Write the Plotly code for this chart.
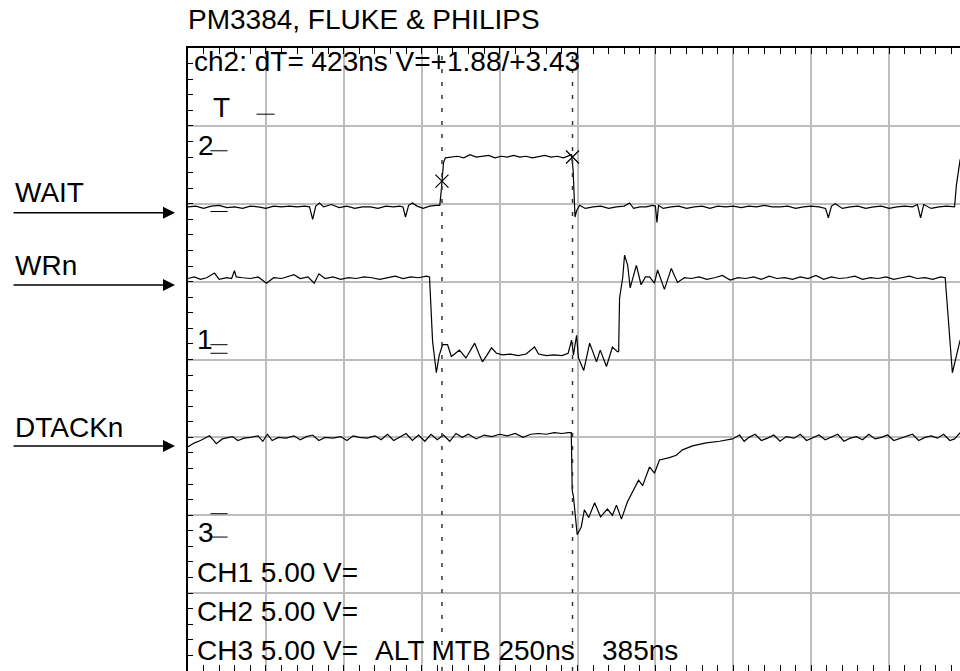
import plotly.graph_objects as go

# ---- data (time in ns, level in screen divisions; 250 ns/div, 5 V/div) ----
wait_t = [0, 25, 50, 75, 100, 125, 150, 175, 200, 225, 250, 275, 300, 325, 350, 375, 390, 400, 410, 422,
          435, 460, 485, 510, 535, 560, 585, 610, 635, 660, 680, 690, 698, 708, 720, 735, 755, 775, 795, 808,
          813, 817, 820, 826, 845, 865, 885, 905, 925, 945, 965, 985, 1005, 1025, 1045, 1065, 1085, 1105,
          1125, 1145, 1165, 1185, 1205, 1220, 1231, 1236, 1239, 1242, 1247, 1257, 1275, 1300, 1325, 1350,
          1375, 1400, 1417, 1430, 1450, 1470, 1490, 1500, 1505, 1510, 1525, 1550, 1575, 1600, 1625, 1650,
          1675, 1700, 1725, 1750, 1775, 1800, 1825, 1850, 1875, 1900, 1925, 1950, 1975, 2000, 2025, 2046,
          2055, 2065, 2077, 2100, 2125, 2150, 2175, 2200, 2225, 2250, 2275, 2300, 2325, 2341, 2351, 2361,
          2385, 2410, 2435, 2460, 2466, 2478]
wait_v = [1.96, 1.97, 1.94, 1.97, 1.98, 1.95, 1.96, 1.94, 1.97, 1.96, 1.94, 1.97, 1.96, 1.97, 1.96, 1.97,
          1.96, 1.80, 1.97, 2.01, 1.96, 1.99, 1.95, 1.97, 1.94, 1.96, 1.96, 1.94, 1.97, 1.96, 1.97, 1.96,
          1.83, 1.98, 2.01, 1.97, 1.94, 1.97, 1.98, 1.98, 2.18, 2.43, 2.53, 2.59, 2.60, 2.61, 2.59, 2.63,
          2.60, 2.61, 2.62, 2.59, 2.61, 2.60, 2.62, 2.60, 2.61, 2.59, 2.61, 2.62, 2.60, 2.61, 2.59, 2.61,
          2.63, 2.43, 2.05, 1.83, 1.91, 1.98, 1.94, 1.96, 1.97, 1.94, 1.96, 1.97, 2.01, 1.94, 1.96, 1.96,
          1.98, 1.97, 1.76, 1.98, 1.94, 1.96, 1.97, 1.94, 1.96, 1.97, 1.94, 1.97, 1.96, 1.97, 1.95, 1.97,
          1.96, 1.98, 1.96, 1.96, 1.97, 1.94, 1.96, 1.97, 1.96, 1.94, 1.82, 1.97, 2.00, 1.94, 1.96, 1.97,
          1.94, 1.96, 1.97, 1.94, 1.96, 1.97, 1.96, 1.99, 1.82, 1.99, 1.94, 1.96, 1.97, 1.96, 2.24, 2.57]

wrn_t = [0, 20, 40, 60, 85, 100, 125, 140, 149, 155, 175, 200, 225, 252, 275, 300, 340, 360, 385, 405,
         420, 440, 465, 490, 515, 540, 565, 590, 615, 640, 665, 690, 715, 740, 765, 775, 785, 797, 806, 817,
         833, 845, 871, 892, 920, 935, 945, 960, 974, 990, 1010, 1035, 1060, 1085, 1112, 1125, 1150, 1175,
         1200, 1220, 1231, 1237, 1247, 1253, 1270, 1289, 1311, 1323, 1343, 1362, 1378, 1382, 1385, 1395,
         1401, 1411, 1419, 1430, 1439, 1454, 1468, 1481, 1497, 1507, 1529, 1551, 1571, 1593, 1615, 1640,
         1665, 1690, 1715, 1740, 1765, 1790, 1815, 1840, 1865, 1890, 1915, 1940, 1965, 1990, 2015, 2040,
         2065, 2090, 2115, 2140, 2165, 2190, 2215, 2240, 2265, 2290, 2315, 2340, 2365, 2390, 2415, 2430,
         2444, 2453, 2478]
wrn_v = [1.04, 1.06, 1.03, 1.05, 1.11, 1.03, 1.05, 1.04, 1.14, 1.06, 1.05, 1.04, 1.06, 0.98, 1.05, 1.04,
         1.09, 1.04, 1.06, 0.98, 1.10, 1.04, 1.06, 1.03, 1.05, 1.04, 1.06, 1.05, 1.03, 1.05, 1.07, 1.04,
         1.06, 1.05, 1.07, 1.06, 0.23, -0.17, 0.05, 0.19, 0.19, 0.04, 0.12, 0.02, 0.21, 0.06, -0.03, 0.06,
         0.15, 0.08, 0.06, 0.07, 0.05, 0.07, 0.16, 0.07, 0.05, 0.06, 0.05, 0.08, 0.25, 0.06, 0.31, 0.02,
         -0.14, 0.21, -0.03, 0.12, -0.09, 0.16, 0.10, 0.10, 0.79, 1.05, 1.34, 1.21, 0.92, 1.08, 1.21, 0.96,
         1.06, 1.06, 0.98, 1.15, 0.90, 1.17, 0.99, 1.05, 1.04, 1.06, 1.03, 1.05, 1.08, 1.02, 1.05, 1.04,
         1.06, 1.03, 1.07, 1.04, 1.05, 1.03, 1.06, 1.04, 1.08, 1.03, 1.06, 1.04, 1.05, 1.07, 1.03, 1.05,
         1.04, 1.06, 1.03, 1.05, 1.07, 1.04, 1.05, 1.03, 1.06, 1.05, 0.25, -0.17, 0.25]

dtack_t = [0, 12, 21, 40, 69, 80, 91, 110, 125, 143, 160, 180, 200, 225, 240, 255, 270, 290, 315, 340,
           360, 380, 400, 420, 440, 465, 490, 510, 530, 550, 575, 600, 620, 640, 660, 680, 700, 720, 740,
           760, 780, 800, 820, 840, 860, 880, 900, 925, 950, 975, 1000, 1025, 1050, 1075, 1100, 1125, 1150,
           1175, 1200, 1220, 1230, 1233, 1237, 1249, 1262, 1272, 1286, 1305, 1324, 1346, 1362, 1375, 1391,
           1410, 1426, 1446, 1459, 1481, 1497, 1513, 1545, 1567, 1587, 1619, 1663, 1706, 1747, 1770, 1785,
           1800, 1820, 1840, 1860, 1880, 1900, 1920, 1945, 1965, 1985, 2005, 2025, 2045, 2065, 2085, 2105,
           2125, 2145, 2165, 2185, 2205, 2225, 2245, 2265, 2285, 2305, 2325, 2345, 2365, 2385, 2405, 2425,
           2445, 2460, 2478]
dtack_v = [-1.12, -1.09, -1.07, -1.04, -0.98, -1.03, -1.08, -1.02, -1.01, -0.99, -1.04, -1.01, -1.00,
           -0.98, -1.05, -0.96, -1.04, -1.00, -1.01, -0.98, -1.03, -0.99, -0.97, -1.04, -1.00, -1.01,
           -0.99, -1.04, -0.98, -1.00, -1.01, -0.98, -1.03, -0.96, -1.04, -0.99, -0.95, -1.04, -0.97,
           -1.05, -0.96, -1.03, -0.97, -1.05, -0.95, -1.00, -0.96, -1.02, -0.97, -0.99, -0.96, -0.98,
           -0.95, -1.00, -0.96, -0.95, -0.96, -0.94, -0.95, -0.94, -0.94, -1.68, -1.76, -2.25, -2.15,
           -1.93, -2.03, -1.84, -2.02, -1.92, -2.00, -1.87, -2.05, -1.83, -1.70, -1.55, -1.62, -1.38,
           -1.46, -1.29, -1.26, -1.23, -1.16, -1.11, -1.07, -1.05, -1.02, -0.97, -1.05, -1.00, -0.96,
           -1.04, -1.01, -0.97, -1.05, -0.99, -1.01, -0.96, -1.04, -1.00, -0.97, -1.03, -1.00, -0.96,
           -1.05, -1.01, -0.99, -1.03, -0.96, -1.02, -1.00, -0.97, -1.04, -1.01, -0.99, -0.96, -1.04,
           -1.00, -0.98, -1.01, -0.96, -1.04, -1.02, -0.94]

cursor_t = [815, 1234]          # time cursors (dT = 423 ns)
cursor_mark_v = [2.29, 2.60]    # cursor crossing points on ch2

signal_names = ["WAIT", "WRn", "DTACKn"]
signal_label_v = [2.14, 1.21, -0.87]
signal_arrow_v = [1.885, 0.956, -1.11]

title_text = "PM3384, FLUKE & PHILIPS"
readout_text = "ch2: dT= 423ns V=+1.88/+3.43"
status_lines = ["CH1 5.00 V=", "CH2 5.00 V=", "CH3 5.00 V="]
status_v = [-2.74, -3.24, -3.74]
timebase_text = "ALT MTB 250ns"
delay_text = "385ns"

X_MAX = 2477.5
FONT = "Liberation Sans, Arial, sans-serif"

fig = go.Figure()
for t, v in [(wait_t, wait_v), (wrn_t, wrn_v), (dtack_t, dtack_v)]:
    fig.add_trace(go.Scatter(x=t, y=v, mode="lines", line=dict(color="black", width=1.2),
                             hoverinfo="skip", showlegend=False))

fig.add_trace(go.Scatter(x=cursor_t, y=cursor_mark_v, mode="markers",
                         marker=dict(symbol="x-thin", size=13, line=dict(color="black", width=1.2)),
                         showlegend=False, hoverinfo="skip"))

shapes = []
for ct in cursor_t:
    shapes.append(dict(type="line", xref="x", yref="paper", x0=ct, x1=ct, y0=0, y1=1,
                       line=dict(color="#333333", width=1.5, dash="4px,9px"), layer="above"))

# ground / trigger level markers
marks = [(220, 278, 3.15), (72, 127, 2.68), (72, 127, 1.90), (72, 127, 0.19),
         (72, 127, 0.08), (72, 127, -1.98), (72, 127, -2.28)]
for x0, x1, yv in marks:
    shapes.append(dict(type="line", xref="x", yref="y", x0=x0, x1=x1, y0=yv, y1=yv,
                       line=dict(color="black", width=1)))

ann = []
def txt(text, x, y, xref="x", yref="y", size=28):
    ann.append(dict(text=text, x=x, y=y, xref=xref, yref=yref, xanchor="left", yanchor="middle",
                    showarrow=False, font=dict(family=FONT, size=size, color="black")))

txt(title_text, -0.002, 1.0465, xref="paper", yref="paper")
txt(readout_text, 14, 3.825)
txt("T", 75, 3.235)
txt("2", 27, 2.75)
txt("1", 21, 0.263)
txt("3", 27, -2.22)
for s, v in zip(status_lines, status_v):
    txt(s, 21, v)
txt(timebase_text, 595, status_v[2])
txt(delay_text, 1321, status_v[2])

for name, lv, av in zip(signal_names, signal_label_v, signal_arrow_v):
    txt(name, -0.2267, lv, xref="paper")
    ann.append(dict(text="", x=-0.0168, y=av, xref="paper", yref="y", ax=-163, ay=0,
                    showarrow=True, arrowhead=2, arrowsize=1.6, arrowwidth=1.5, arrowcolor="black",
                    standoff=0))

axis_common = dict(showline=True, linecolor="black", linewidth=2, showticklabels=False,
                   ticks="inside", tickcolor="black", zeroline=False,
                   showgrid=True, gridcolor="#bdbdbd", gridwidth=2)

fig.update_layout(
    width=960, height=671,
    margin=dict(l=188, r=0, t=48, b=0),
    paper_bgcolor="white", plot_bgcolor="white",
    xaxis=dict(range=[0, X_MAX], dtick=250, tick0=0, ticklen=6, mirror="ticks",
               minor=dict(dtick=50, ticks="inside", ticklen=6, tickcolor="black", showgrid=False),
               **axis_common),
    yaxis=dict(range=[-4, 4], dtick=1, tick0=0, ticklen=5,
               minor=dict(dtick=0.2, ticks="inside", ticklen=5, tickcolor="black", showgrid=False),
               **axis_common),
    shapes=shapes, annotations=ann,
)

fig.write_html("out.html", config={"displayModeBar": False},
               post_script="document.body.style.margin='0';document.body.style.overflow='hidden';")
